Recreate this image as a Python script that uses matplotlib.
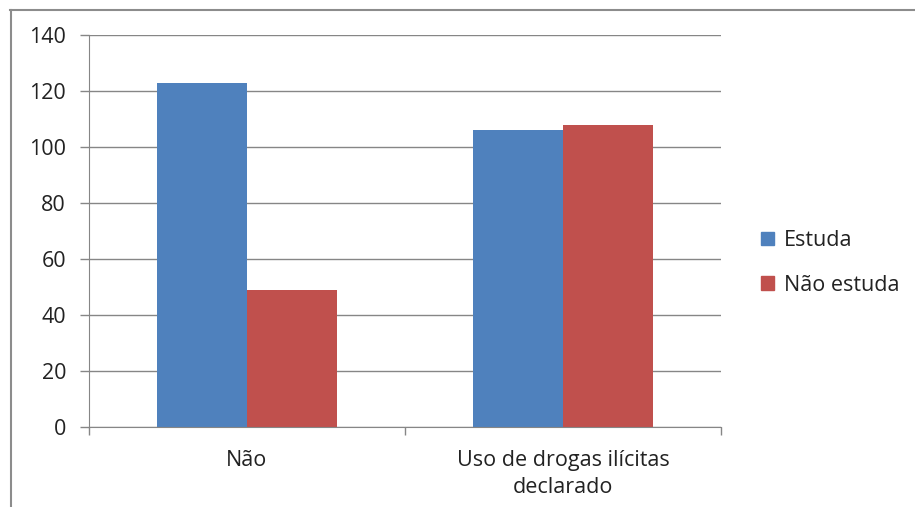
'''bar chart: drug use vs studying'''

import numpy as np
import matplotlib.pyplot as plt
from matplotlib.lines import Line2D
from matplotlib.patches import Patch

#%% data

categories = ['Não', 'Uso de drogas ilícitas\ndeclarado']
estuda = [123, 106]
nao_estuda = [49, 108]
series_names = ['Estuda', 'Não estuda']
yticks = [0, 20, 40, 60, 80, 100, 120, 140]

blue = '#4F81BD'
red = '#C0504D'
grey = '#868686'

plt.rcParams['font.family'] = ['Open Sans', 'DejaVu Sans']
fs = 15.5

#%% plot

fig = plt.figure(figsize=(9.15, 5.07), dpi=100)
ax = fig.add_axes([89/915, 1-427/507, (721-89)/915, (427-35)/507])

x = np.arange(len(categories))
w = 0.285
ax.bar(x - w/2, estuda, w, color=blue, label=series_names[0])
ax.bar(x + w/2, nao_estuda, w, color=red, label=series_names[1])

ax.set_xlim(-0.5, len(categories) - 0.5)
ax.set_ylim(0, 140)
ax.set_yticks(yticks)
ax.set_yticklabels([str(v) for v in yticks], fontsize=fs, color='#222222')
ax.yaxis.grid(True, color=grey, linewidth=1)
ax.set_axisbelow(True)

# category labels in the middle, ticks on the category borders
ax.set_xticks(x)
ax.set_xticklabels(categories, fontsize=fs, color='#222222', linespacing=1.35)
ax.tick_params(axis='x', length=0, pad=16.5)
ax.set_xticks(np.arange(len(categories) + 1) - 0.5, minor=True)
ax.tick_params(axis='x', which='minor', length=6, color=grey, width=1)
ax.tick_params(axis='y', length=6.5, pad=10, color=grey, width=1)

for s in ['top', 'right']:
    ax.spines[s].set_visible(False)
ax.spines['left'].set_color(grey)
ax.spines['bottom'].set_color(grey)

handles = [Patch(color=blue), Patch(color=red)]
fig.legend(handles, series_names, loc='center left',
           bbox_to_anchor=(742/915, 1-263/507), frameon=False,
           fontsize=fs, handlelength=0.6, handleheight=0.6,
           handletextpad=0.45, labelspacing=1.1, labelcolor='#222222')

# outer chart border (only top and left visible)
fig.add_artist(Line2D([10/915, 1], [1-9.5/507, 1-9.5/507], color='#8c8c8c', lw=1.5))
fig.add_artist(Line2D([10.5/915, 10.5/915], [0, 1-9.5/507], color='#8c8c8c', lw=1.5))

fig.savefig('out.png', dpi=100)
